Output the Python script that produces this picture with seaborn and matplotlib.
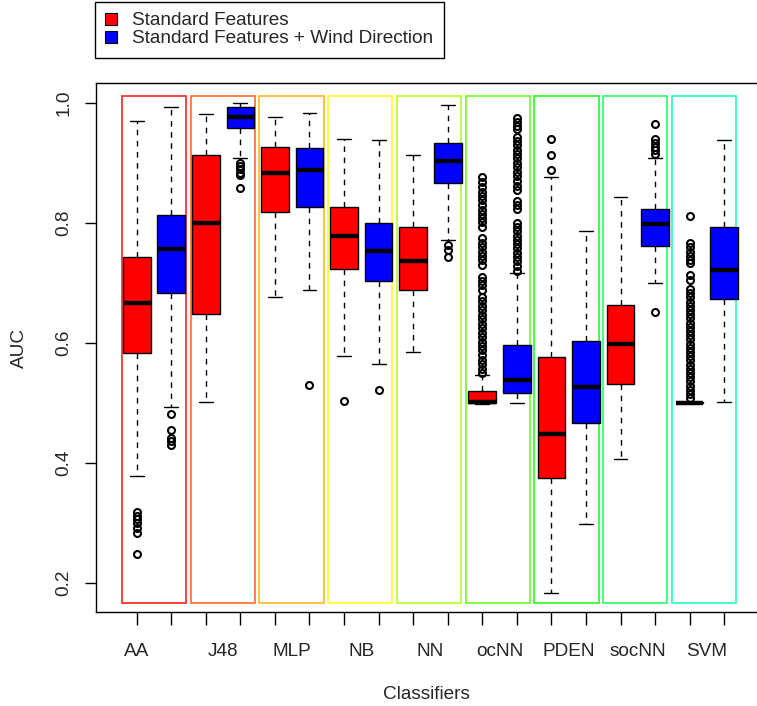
import numpy as np
import matplotlib
matplotlib.use("Agg")
import matplotlib.pyplot as plt
import seaborn as sns
from matplotlib.patches import Rectangle, Patch

# ---------------- data ----------------
classifiers = ["AA", "J48", "MLP", "NB", "NN", "ocNN", "PDEN", "socNN", "SVM"]
series_names = ["Standard Features", "Standard Features + Wind Direction"]
series_colors = ["#FF0000", "#0000FF"]
frame_colors = ["#FF0000", "#FF5500", "#FFAA00", "#FFFF00", "#AAFF00",
                "#55FF00", "#00FF00", "#00FF55", "#00FFAA"]

# Standard Features
std_whislo = [0.379, 0.501, 0.676, 0.579, 0.585, 0.498, 0.184, 0.407, 0.4995]
std_q1     = [0.583, 0.649, 0.819, 0.724, 0.688, 0.4995, 0.375, 0.531, 0.4995]
std_med    = [0.666, 0.800, 0.883, 0.779, 0.737, 0.501, 0.449, 0.598, 0.500]
std_q3     = [0.743, 0.913, 0.927, 0.827, 0.793, 0.520, 0.577, 0.664, 0.5015]
std_whishi = [0.9705, 0.981, 0.977, 0.940, 0.913, 0.547, 0.877, 0.843, 0.5015]
std_fliers = [
    [0.318, 0.312, 0.306, 0.300, 0.292, 0.284, 0.249],
    [],
    [],
    [0.504],
    [],
    [0.876, 0.868, 0.860, 0.852, 0.845, 0.838, 0.830, 0.822, 0.815, 0.808,
     0.801, 0.794, 0.775, 0.767, 0.760, 0.752, 0.745, 0.738, 0.730, 0.710,
     0.703, 0.696, 0.688, 0.677, 0.670, 0.662, 0.655, 0.647, 0.640, 0.632,
     0.625, 0.617, 0.610, 0.602, 0.595, 0.588, 0.580, 0.572, 0.565, 0.557,
     0.550],
    [0.940, 0.913, 0.889],
    [],
    [0.812, 0.767, 0.760, 0.752, 0.745, 0.738, 0.733, 0.713, 0.705, 0.690,
     0.683, 0.676, 0.669, 0.662, 0.655, 0.648, 0.641, 0.634, 0.627, 0.620,
     0.613, 0.606, 0.599, 0.592, 0.585, 0.578, 0.571, 0.564, 0.557, 0.550,
     0.543, 0.536, 0.529, 0.522, 0.515, 0.508],
]

# Standard Features + Wind Direction
wd_whislo = [0.494, 0.909, 0.688, 0.565, 0.772, 0.4995, 0.298, 0.700, 0.501]
wd_q1     = [0.683, 0.958, 0.827, 0.703, 0.866, 0.517, 0.466, 0.762, 0.674]
wd_med    = [0.757, 0.977, 0.888, 0.753, 0.903, 0.538, 0.527, 0.799, 0.722]
wd_q3     = [0.814, 0.994, 0.925, 0.800, 0.933, 0.597, 0.604, 0.824, 0.794]
wd_whishi = [0.993, 1.000, 0.984, 0.939, 0.997, 0.716, 0.786, 0.908, 0.939]
wd_fliers = [
    [0.481, 0.455, 0.442, 0.436, 0.430],
    [0.900, 0.895, 0.890, 0.884, 0.880, 0.858],
    [0.530],
    [0.522],
    [0.763, 0.755, 0.744],
    [0.975, 0.968, 0.962, 0.956, 0.944, 0.937, 0.930, 0.922, 0.915, 0.908,
     0.900, 0.893, 0.885, 0.878, 0.870, 0.862, 0.855, 0.836, 0.830, 0.824,
     0.800, 0.793, 0.786, 0.779, 0.772, 0.765, 0.758, 0.750, 0.743, 0.736,
     0.728, 0.720],
    [],
    [0.965, 0.940, 0.933, 0.927, 0.921, 0.915, 0.652],
    [],
]

y_ticks = [0.2, 0.4, 0.6, 0.8, 1.0]
y_tick_labels = ["0.2", "0.4", "0.6", "0.8", "1.0"]

# ---------------- style ----------------
sns.set_style("white")
plt.rcParams['font.family'] = ['Liberation Sans', 'DejaVu Sans']
FS = 13.7

fig = plt.figure(figsize=(7.57, 7.06), dpi=100)
W, H = 757, 706
ax = fig.add_axes([96 / W, (H - 612) / H, (757 - 96) / W, (612 - 83) / H])

# ---------------- boxes ----------------
def make_stats(lo, q1, med, q3, hi, fl):
    return [dict(whislo=a, q1=b, med=c, q3=d, whishi=e, fliers=f)
            for a, b, c, d, e, f in zip(lo, q1, med, q3, hi, fl)]

stats_std = make_stats(std_whislo, std_q1, std_med, std_q3, std_whishi, std_fliers)
stats_wd = make_stats(wd_whislo, wd_q1, wd_med, wd_q3, wd_whishi, wd_fliers)

n = len(classifiers)
pos_std = [2 * k + 1 for k in range(n)]
pos_wd = [2 * k + 2 for k in range(n)]

# coloured frames around each classifier pair
for k in range(n):
    cx = 1.5 + 1.99 * k
    ax.add_patch(Rectangle((cx - 0.93, 0.166), 1.86, 0.846, fill=False,
                           edgecolor=frame_colors[k], lw=1.3, alpha=0.8,
                           zorder=1))

for stats, pos, col in ((stats_std, pos_std, series_colors[0]),
                        (stats_wd, pos_wd, series_colors[1])):
    ax.bxp(stats, positions=pos, widths=0.8, patch_artist=True,
           showfliers=True, manage_ticks=False,
           boxprops=dict(facecolor=col, edgecolor="black", lw=1.0),
           medianprops=dict(color="black", lw=3.2, solid_capstyle="butt"),
           whiskerprops=dict(color="black", lw=1.0, ls=(0, (4, 4))),
           capprops=dict(color="black", lw=1.0),
           capwidths=0.4,
           flierprops=dict(marker="o", markerfacecolor="none",
                           markeredgecolor="black", markersize=5,
                           markeredgewidth=1.5),
           zorder=3)

# ---------------- axes ----------------
ax.set_xlim(-0.178, 18.95)
ax.set_ylim(0.1517, 1.0333)

ax.xaxis.remove_overlapping_locs = False
ax.set_xticks(list(range(1, 2 * n + 1)))
ax.set_xticklabels([""] * (2 * n))
label_pos = [1] + [2 * k + 1.5 for k in range(1, n)]
ax.set_xticks(label_pos, minor=True)
ax.set_xticklabels(classifiers, minor=True, fontsize=FS)
ax.tick_params(axis="x", which="major", direction="out", length=9, width=1,
               color="black", bottom=True)
ax.tick_params(axis="x", which="minor", length=0, pad=22, bottom=True)

ax.set_yticks(y_ticks)
ax.set_yticklabels(y_tick_labels, fontsize=FS, rotation=90, va="center")
ax.tick_params(axis="y", direction="out", length=8, width=1, color="black",
               pad=9, left=True)

for s in ("left", "top", "bottom"):
    ax.spines[s].set_color("black")
    ax.spines[s].set_linewidth(1.0)
ax.spines["right"].set_visible(False)

ax.set_ylabel("AUC", fontsize=FS, labelpad=20)
ax.set_xlabel("Classifiers", fontsize=FS, labelpad=19)

# ---------------- legend ----------------
handles = [Patch(facecolor=c, edgecolor="black", lw=0.8) for c in series_colors]
leg = fig.legend(handles, series_names, loc="upper left",
                 bbox_to_anchor=(95 / W, 1 - 2 / H), fontsize=FS,
                 frameon=True, fancybox=False, edgecolor="black",
                 framealpha=1, borderaxespad=0, handlelength=0.6,
                 handleheight=0.6, handletextpad=0.8, labelspacing=0.05,
                 borderpad=0.55)
leg.get_frame().set_linewidth(1.0)

fig.savefig("out.png", dpi=100)
